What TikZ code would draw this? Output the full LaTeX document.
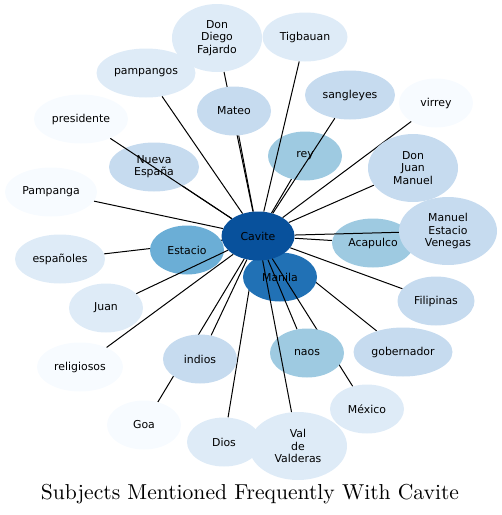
\documentclass[tikz,border=0pt]{standalone}
\usepackage{fontspec}
\usepackage{xcolor}
\usepackage{tikz}
\usetikzlibrary{shapes.geometric}
\newfontfamily\subjfont{DejaVu Sans}
\newfontfamily\captionfont{lmroman10-regular.otf}

\definecolor{blueA}{HTML}{08519C}
\definecolor{blueB}{HTML}{2171B5}
\definecolor{blueC}{HTML}{6BAED6}
\definecolor{blueD}{HTML}{9ECAE1}
\definecolor{blueE}{HTML}{C6DBEF}
\definecolor{blueF}{HTML}{DEEBF7}
\definecolor{blueG}{HTML}{F7FBFF}

\pgfdeclarelayer{edges}
\pgfsetlayers{edges,main}

\begin{document}
\begin{tikzpicture}[x=1pt, y=-1pt,
    subject/.style={ellipse, draw=none, inner sep=0pt, minimum width=74pt, minimum height=49pt, align=center, font=\subjfont\fontsize{10.9}{12.2}\selectfont},
    tall/.style={minimum height=68pt},
    link/.style={line width=1pt}]
    \useasboundingbox (0,0) rectangle (502,515);

    \node (manila) [subject, fill=blueB] at (280,277) {Manila};
    \node (cavite) [subject, fill=blueA, minimum width=73pt] at (258,236) {Cavite};
    \node (estacio) [subject, fill=blueC] at (187,250) {Estacio};
    \node (acapulco) [subject, fill=blueD, minimum width=82pt] at (373,243) {Acapulco};
    \node (rey) [subject, fill=blueD] at (305,156) {rey};
    \node (mateo) [subject, fill=blueE] at (234,111) {Mateo};
    \node (nueva) [subject, fill=blueE, minimum width=90pt] at (154,167) {Nueva\\España};
    \node (donjuan) [subject, tall, fill=blueE, minimum width=90pt] at (413,168) {Don\\Juan\\Manuel};
    \node (venegas) [subject, tall, fill=blueE, minimum width=98pt] at (448,231) {Manuel\\Estacio\\Venegas};
    \node (filipinas) [subject, fill=blueE, minimum width=77pt] at (436,301) {Filipinas};
    \node (gobernador) [subject, fill=blueE, minimum width=99pt] at (403,352) {gobernador};
    \node (indios) [subject, fill=blueE] at (200,359) {indios};
    \node (sangleyes) [subject, fill=blueE, minimum width=90pt] at (350,95) {sangleyes};
    \node (fajardo) [subject, tall, fill=blueF, minimum width=90pt] at (217,38) {Don\\Diego\\Fajardo};
    \node (tigbauan) [subject, fill=blueF, minimum width=85pt] at (305,37) {Tigbauan};
    \node (pampangos) [subject, fill=blueF, minimum width=99pt] at (146,73) {pampangos};
    \node (espanoles) [subject, fill=blueF, minimum width=90pt] at (60,259) {españoles};
    \node (juan) [subject, fill=blueF] at (106,308) {Juan};
    \node (dios) [subject, fill=blueF] at (224,442) {Dios};
    \node (valderas) [subject, tall, fill=blueF, minimum width=98pt] at (298,446) {Val\\de\\Valderas};
    \node (mexico) [subject, fill=blueF] at (367,409) {México};
    \node (virrey) [subject, fill=blueG] at (436,103) {virrey};
    \node (presidente) [subject, fill=blueG, minimum width=94pt] at (81,119) {presidente};
    \node (pampanga) [subject, fill=blueG, minimum width=92pt] at (51,192) {Pampanga};
    \node (religiosos) [subject, fill=blueG, minimum width=86pt] at (80,367) {religiosos};
    \node (goa) [subject, fill=blueG] at (144,425) {Goa};

    % edges hidden behind the nodes they cross
    \begin{pgfonlayer}{edges}
    \draw[link] (cavite) -- (manila);
    \draw[link] (cavite) -- (estacio);
    \draw[link] (cavite) -- (acapulco);
    \draw[link] (cavite) -- (rey);
    \draw[link] (cavite) -- (mateo);
    \draw[link] (cavite) -- (nueva);
    \draw[link] (cavite) -- (donjuan);
    \draw[link] (cavite) -- (filipinas);
    \draw[link] (cavite) -- (gobernador);
    \draw[link] (cavite) -- (indios);
    \draw[link] (cavite) -- (fajardo);
    \draw[link] (cavite) -- (pampangos);
    \draw[link] (cavite) -- (espanoles);
    \draw[link] (cavite) -- (dios);
    \draw[link] (cavite) -- (virrey);
    \draw[link] (cavite) -- (pampanga);
    \draw[link] (cavite) -- (religiosos);
    \draw[link] (cavite) -- (goa);
    \end{pgfonlayer}

    % edges drawn over other nodes
    \draw[link] (cavite) -- (presidente);
    \draw[link] (cavite) -- (juan);
    \draw[link] (cavite) -- (tigbauan);
    \draw[link] (cavite) -- (sangleyes);
    \draw[link] (cavite) -- (venegas);
    \draw[link] (cavite) -- (mexico);
    \node (naos) [subject, fill=blueD] at (307,353) {naos};
    \draw[link] (cavite) -- (naos);
    \draw[link] (cavite) -- (valderas);

    \node (title) [anchor=base, font=\captionfont\fontsize{21.6}{25}\selectfont] at (250,499) {Subjects Mentioned Frequently With Cavite};
\end{tikzpicture}
\end{document}
